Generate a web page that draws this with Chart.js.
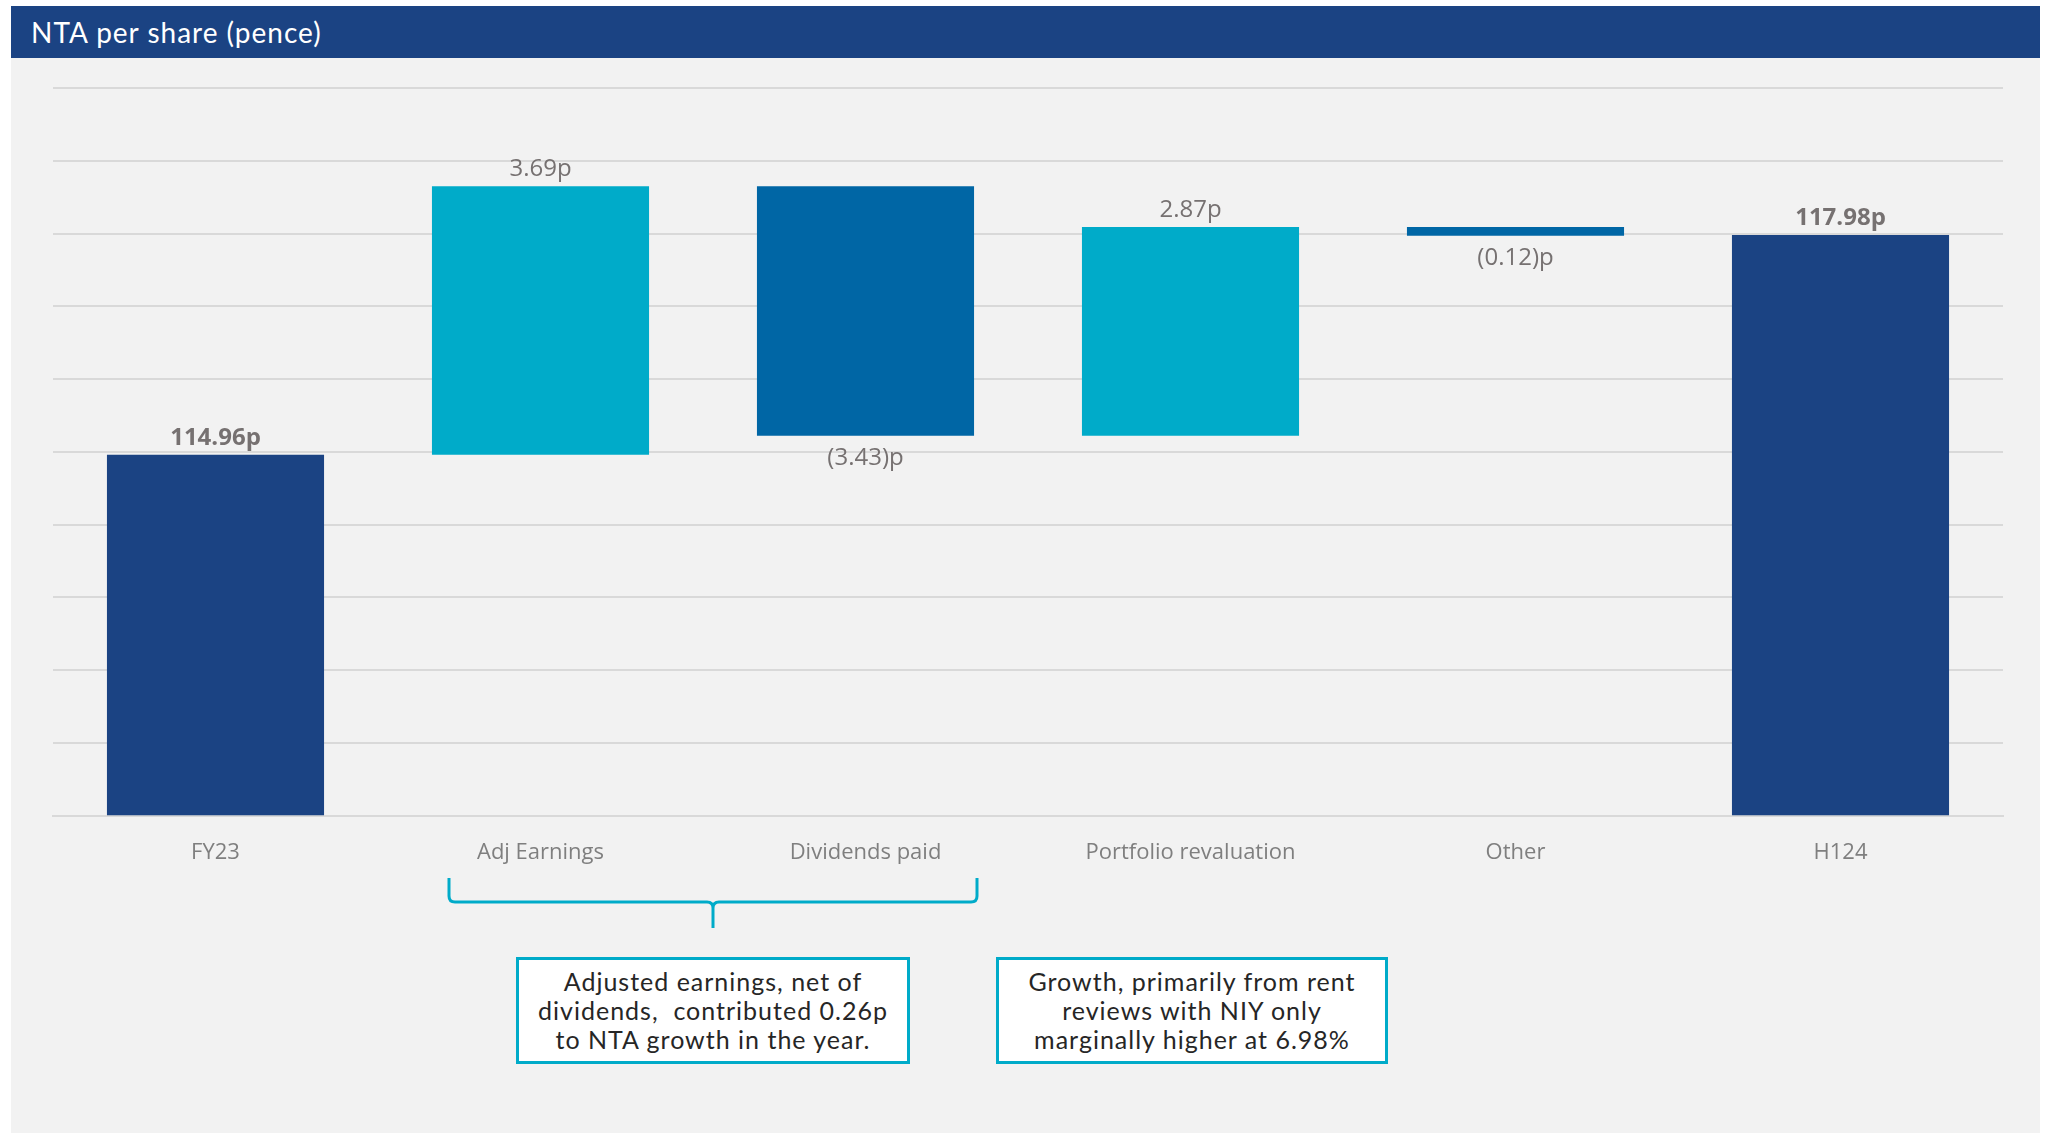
<!DOCTYPE html>
<html>
<head>
<meta charset="utf-8">
<script src="https://cdn.jsdelivr.net/npm/chart.js@4.4.0/dist/chart.umd.min.js"></script>
<style>
  html, body { margin: 0; padding: 0; background: #ffffff; }
  body { width: 2049px; height: 1133px; position: relative; overflow: hidden; }
  #header {
    position: absolute; left: 11px; top: 6px; width: 2029px; height: 52px;
    background: #1b4383; color: #ffffff;
    font: 28px Lato, "DejaVu Sans", sans-serif; letter-spacing: 1px; line-height: 52px;
    padding-left: 20px; box-sizing: border-box;
  }
  #panel { position: absolute; left: 11px; top: 58px; width: 2029px; height: 1075px; background: #f2f2f2; }
  #chartWrap { position: absolute; left: 0; top: 0; width: 2049px; height: 900px; }
  #bracket { position: absolute; left: 0; top: 0; }
  .note {
    position: absolute; top: 957px; height: 107px;
    background: #ffffff; border: 3px solid #00abc9; box-sizing: border-box;
    display: flex; align-items: center; justify-content: center; text-align: center;
    font: 25px Lato, "DejaVu Sans", sans-serif; letter-spacing: 1px; line-height: 29px; color: #262626;
    white-space: nowrap;
  }
</style>
</head>
<body>
<div id="panel"></div>
<div id="header">NTA per share (pence)</div>
<div id="chartWrap"><canvas id="ntaChart" width="2049" height="900"></canvas></div>

<svg id="bracket" width="2049" height="1133">
  <path d="M449 878 L449 896 Q449 902 455 902 L707 902 Q713 902 713 908 L713 928 M713 908 Q713 902 719 902 L971 902 Q977 902 977 896 L977 878"
        fill="none" stroke="#00abc9" stroke-width="3"/>
</svg>

<div class="note" style="left:516px; width:394px;">Adjusted earnings, net of<br>dividends,&nbsp; contributed 0.26p<br>to NTA growth in the year.</div>
<div class="note" style="left:996px; width:392px;">Growth, primarily from rent<br>reviews with NIY only<br>marginally higher at 6.98%</div>

<script>
// ── DATA ─────────────────────────────────────────────────────────────────────
const categories = ["FY23", "Adj Earnings", "Dividends paid", "Portfolio revaluation", "Other", "H124"];
const openingNta = 114.96;
const movements  = [3.69, -3.43, 2.87, -0.12];
const closingNta = 117.98;
const axisMin = 110, axisMax = 120, axisStep = 1;

const barColours = ["#1b4383", "#00abc9", "#0066a5", "#00abc9", "#0066a5", "#1b4383"];

// ── WATERFALL RANGES ─────────────────────────────────────────────────────────
const ranges = [[axisMin, openingNta]];
const labels = [{ text: openingNta.toFixed(2) + "p", bold: true, below: false }];
let running = openingNta;
movements.forEach(m => {
  ranges.push([running, running + m]);
  running += m;
  labels.push(m >= 0
    ? { text: m.toFixed(2) + "p", bold: false, below: false }
    : { text: "(" + Math.abs(m).toFixed(2) + ")p", bold: false, below: true });
});
ranges.push([axisMin, closingNta]);
labels.push({ text: closingNta.toFixed(2) + "p", bold: true, below: false });

// ── VALUE LABELS ─────────────────────────────────────────────────────────────
const valueLabels = {
  id: "valueLabels",
  afterDatasetsDraw(chart) {
    const ctx = chart.ctx;
    const meta = chart.getDatasetMeta(0);
    ctx.save();
    ctx.fillStyle = "#767171";
    ctx.textAlign = "center";
    ctx.textBaseline = "middle";
    meta.data.forEach((bar, i) => {
      const lb = labels[i];
      const top = Math.min(bar.y, bar.base);
      const bottom = Math.max(bar.y, bar.base);
      ctx.font = (lb.bold ? "bold " : "") + "24px 'Open Sans', sans-serif";
      const y = lb.below ? bottom + 22 : top - 17;
      ctx.fillText(lb.text, bar.x, y);
    });
    ctx.restore();
  }
};

new Chart(document.getElementById("ntaChart"), {
  type: "bar",
  data: {
    labels: categories,
    datasets: [{
      data: ranges,
      backgroundColor: barColours,
      borderWidth: 0,
      barPercentage: 0.668,
      categoryPercentage: 1.0,
      borderSkipped: false
    }]
  },
  options: {
    responsive: false,
    animation: false,
    layout: { padding: { left: 53, right: 46, top: 88, bottom: 10 } },
    plugins: { legend: { display: false }, tooltip: { enabled: false } },
    scales: {
      x: {
        z: 1,
        grid: { display: false, drawTicks: false },
        border: { display: true, color: "#d9d9d9", width: 2 },
        ticks: { color: "#7f7f7f", padding: 24, font: { family: "'Open Sans'", size: 22 } }
      },
      y: {
        min: axisMin, max: axisMax,
        grid: { color: "#d9d9d9", lineWidth: 2, drawTicks: false },
        border: { display: false },
        ticks: { display: false, stepSize: axisStep }
      }
    }
  },
  plugins: [valueLabels]
});
</script>
</body>
</html>
